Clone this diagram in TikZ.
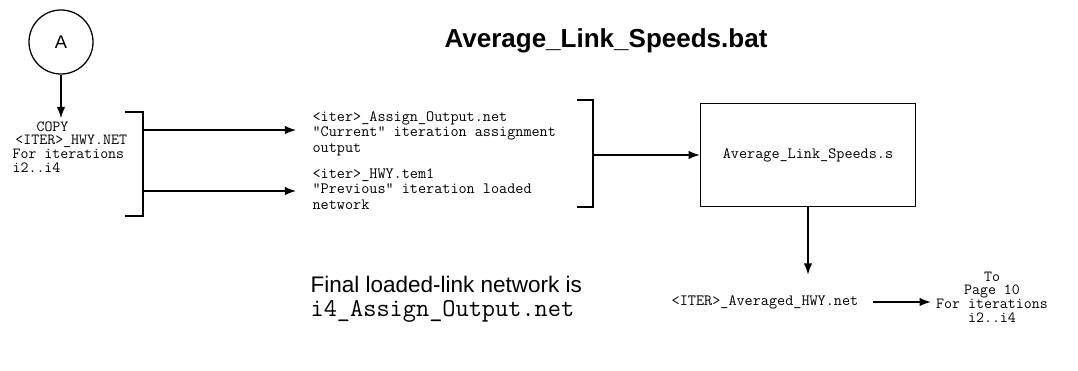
\documentclass[tikz,border=0pt]{standalone}
\usepackage{fontspec}
\setmainfont{Liberation Sans}
\usetikzlibrary{arrows.meta,positioning,calc}

\begin{document}
\begin{tikzpicture}[
    x=0.025cm, y=-0.025cm,
    >={Latex[length=8pt,width=6pt]},
    line width=0.9pt,
    code/.style={font=\ttfamily\addfontfeatures{FakeBold=0.6}\fontsize{11.2}{11}\selectfont, inner sep=0pt},
    tightcode/.style={font=\ttfamily\addfontfeatures{FakeBold=0.6}\fontsize{11}{9.7}\selectfont, inner sep=0pt},
    bigcode/.style={font=\ttfamily\addfontfeatures{FakeBold=0.6}\fontsize{18.2}{20}\selectfont, inner sep=0pt},
    note/.style={font=\fontsize{16}{18}\selectfont, inner sep=0pt},
    script/.style={draw, code, minimum width=5.375cm, minimum height=2.575cm},
]
\useasboundingbox (0,0) rectangle (1078,370);

\node[font=\bfseries\fontsize{18.5}{22}\selectfont] (title) at (606,41) {Average\_Link\_Speeds.bat};

\node[draw, circle, minimum size=1.6cm, inner sep=0pt,
      font=\fontsize{13}{15}\selectfont] (A) at (61,42) {A};

\node[tightcode, anchor=north west, align=left] (copy) at (12,121)
    {\hspace*{17pt}COPY\\\hspace*{2pt}<ITER>\_HWY.NET\\For iterations\\i2..i4};
\draw[->, shorten >=2pt] (A) -- (A |- copy.north);

% left bracket
\coordinate (b1top) at (143,112);
\coordinate (b1bot) at (143,216);
\coordinate (b1a) at (143,130);
\coordinate (b1b) at (143,191);
\draw ($(b1top)+(-18,0)$) -- (b1top) -- (b1bot) -- ($(b1bot)+(-18,0)$);

\node[code, anchor=north west, align=left] (cur) at (312,111)
    {<iter>\_Assign\_Output.net\\"Current" iteration assignment\\output};
\node[code, anchor=north west, align=left] (prev) at (312,168)
    {<iter>\_HWY.tem1\\"Previous" iteration loaded\\network};
\draw[->, shorten >=0.4cm] (b1a) -- (b1a -| cur.west);
\draw[->, shorten >=0.4cm] (b1b) -- (b1b -| prev.west);

% right bracket
\coordinate (b2top) at (593,100);
\coordinate (b2bot) at (593,207);
\coordinate (b2mid) at (593,155);
\draw ($(b2top)+(-16,0)$) -- (b2top) -- (b2bot) -- ($(b2bot)+(-16,0)$);

\node[script] (avg) at (808,155) {Average\_Link\_Speeds.s};
\draw[->] (b2mid) -- (avg.west);

\node[code] (avgnet) at (765,302) {<ITER>\_Averaged\_HWY.net};
\draw[->, shorten >=0.5cm] (avg.south) -- (avg.south |- avgnet.north);

\node[tightcode, align=center] (topage) at (992,297) {To\\Page 10\\For iterations\\i2..i4};
\draw[->, shorten <=0.35cm, shorten >=0.12cm] (avgnet.east) -- (avgnet.east -| topage.west);

\node[note, anchor=west] (final) at (310,284) {Final loaded-link network is};
\node[bigcode, anchor=west] (finalnet) at (310,311) {i4\_Assign\_Output.net};

\end{tikzpicture}
\end{document}
